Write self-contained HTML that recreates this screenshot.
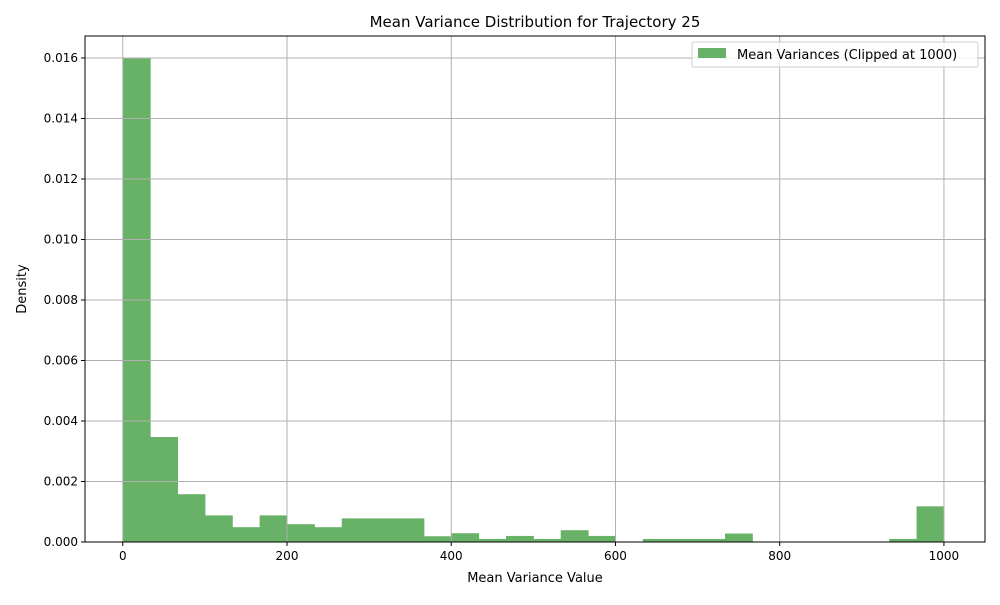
<!DOCTYPE html>
<html><head><meta charset="utf-8"><style>
body{margin:0;background:#fff;font-family:"Liberation Sans","DejaVu Sans",sans-serif;}
</style></head><body>
<svg id="chart" width="1000" height="600" xmlns="http://www.w3.org/2000/svg" font-family="DejaVu Sans, Liberation Sans, sans-serif">
<rect width="1000" height="600" fill="#fff"/>
<text x="535" y="27" font-size="15" text-anchor="middle">Mean Variance Distribution for Trajectory 25</text>
<g id="bars"></g><g id="grid"></g><g id="axes"></g>
<text x="535" y="582" font-size="13" text-anchor="middle">Mean Variance Value</text>
<text transform="translate(26,289) rotate(-90)" font-size="13" text-anchor="middle">Density</text>
<g>
<rect x="692" y="42" width="286" height="25" fill="#fff" fill-opacity="0.8" stroke="#ccc" rx="2"/>
<rect x="698" y="48" width="28" height="10" fill="#67b267"/>
<text x="737" y="59" font-size="13">Mean Variances (Clipped at 1000)</text>
</g>
</svg>
<script>
const binStart = 0;
const binWidth = 1000/30;
const densities = [0.016,0.00347,0.00158,0.00088,0.00049,0.00088,0.00059,0.00049,0.00078,0.00078,0.00078,0.00019,0.00029,0.0001,0.0002,0.0001,0.00039,0.0002,0,0.0001,0.0001,0.0001,0.00028,0,0,0,0,0,0.0001,0.00118];
const xTicks = [0,200,400,600,800,1000];
const yTicks = [0,0.002,0.004,0.006,0.008,0.010,0.012,0.014,0.016];
const L=85,R=985,T=36,B=542;
const xMin=-46,xMax=1050,yMax=0.016727;
const sx=v=>L+(v-xMin)/(xMax-xMin)*(R-L);
const sy=v=>B-v/yMax*(B-T);
const NS="http://www.w3.org/2000/svg";
function mk(tag,attrs,parent){const e=document.createElementNS(NS,tag);for(const k in attrs)e.setAttribute(k,attrs[k]);document.getElementById(parent).appendChild(e);return e;}
xTicks.forEach(t=>{
 const g=mk('line',{x1:sx(t),x2:sx(t),y1:T,y2:B,stroke:'#b0b0b0','stroke-width':1},'grid');
 
 
 const tk=mk('line',{x1:sx(t),x2:sx(t),y1:B,y2:B+4,stroke:'#000'},'axes');
 
 
 const tx=mk('text',{x:sx(t),y:B+18,'font-size':12,'text-anchor':'middle'},'axes');
 tx.textContent=t;
 
 
});
yTicks.forEach(t=>{
 const g=mk('line',{x1:L,x2:R,y1:sy(t),y2:sy(t),stroke:'#b0b0b0','stroke-width':1},'grid');
 
 
 const tk=mk('line',{x1:L-4,x2:L,y1:sy(t),y2:sy(t),stroke:'#000'},'axes');
 
 
 const tx=mk('text',{x:L-7,y:sy(t)+4,'font-size':12,'text-anchor':'end'},'axes');
 tx.textContent=t.toFixed(3);
 
 
});
densities.forEach((d,i)=>{
 if(d<=0)return;
 const x0=sx(binStart+i*binWidth),x1=sx(binStart+(i+1)*binWidth);
 const r=mk('rect',{x:x0,y:sy(d),width:x1-x0+0.5,height:B-sy(d),fill:'#67b267'},'bars');
 
 
});
const fr=mk('rect',{x:L,y:T,width:R-L,height:B-T,fill:'none',stroke:'#000','stroke-width':1},'axes');


</script>
</body></html>
